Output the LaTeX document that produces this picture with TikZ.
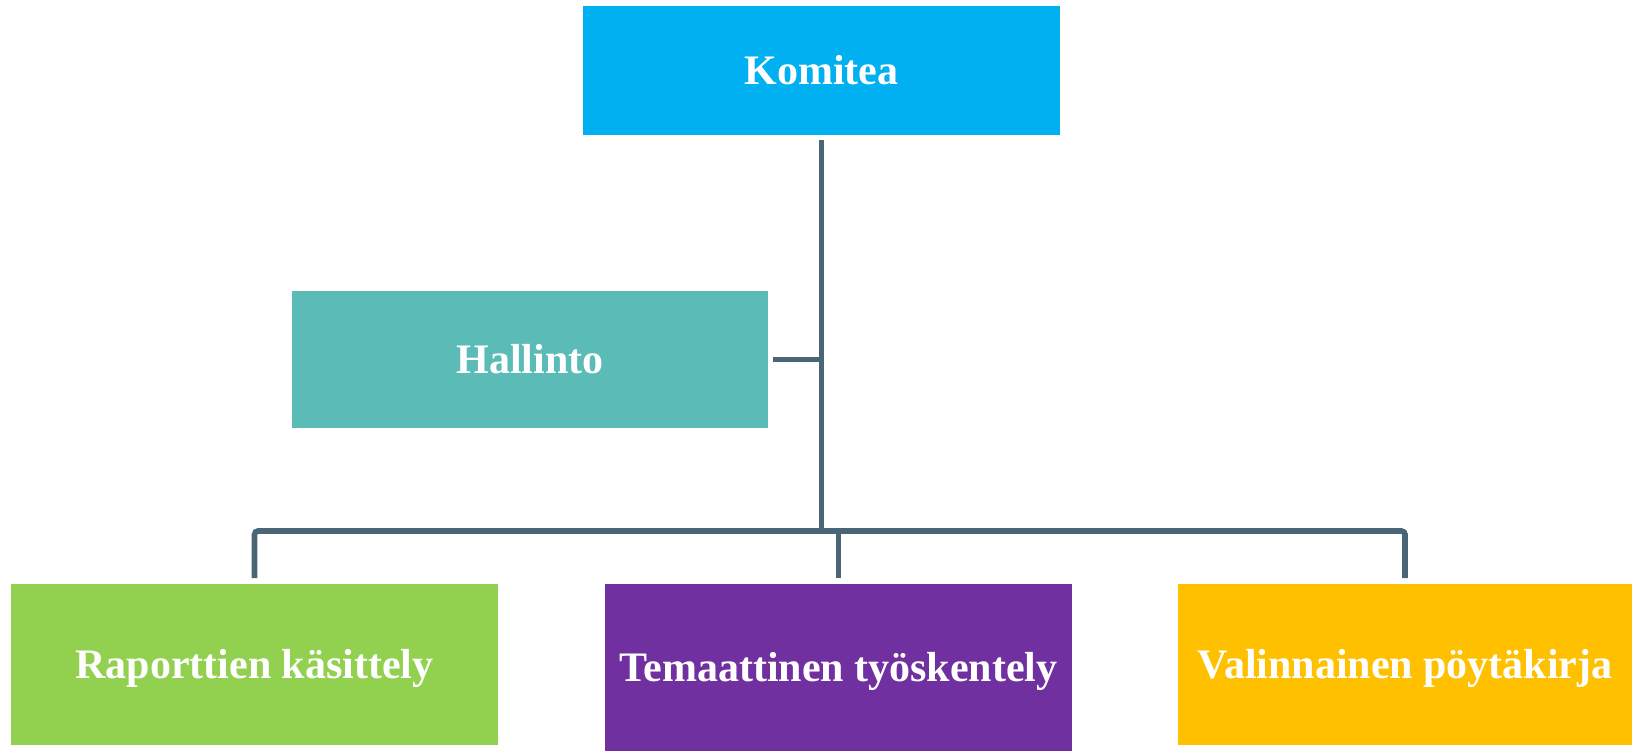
\documentclass[tikz,border=0pt]{standalone}
\usepackage{fontspec}
\setmainfont{Liberation Serif}
\usetikzlibrary{positioning}
\definecolor{komiteablue}{HTML}{00B0F0}
\definecolor{hallintoteal}{HTML}{5BBBB7}
\definecolor{raporttigreen}{HTML}{92D050}
\definecolor{teemapurple}{HTML}{7030A0}
\definecolor{valintayellow}{HTML}{FFC000}
\definecolor{linjagray}{HTML}{4A6575}
\begin{document}
\begin{tikzpicture}[
  lohko/.style={inner sep=0pt, outer sep=0pt, text=white,
    font=\fontsize{11.95}{14}\selectfont\bfseries,
    text height=0.28cm, text depth=0pt, align=center},
  conn/.style={draw=linjagray, line width=1.6pt}
]
\useasboundingbox (0,0) rectangle (16.32,-7.51);
\node[lohko, fill=komiteablue, minimum width=4.77cm, minimum height=1.29cm] (komitea) at (8.215,-0.705) {Komitea};
\node[lohko, fill=hallintoteal, minimum width=4.76cm, minimum height=1.37cm] (hallinto) at (5.30,-3.595) {Hallinto};
\node[lohko, fill=raporttigreen, minimum width=4.87cm, minimum height=1.61cm] (raportit) at (2.545,-6.645) {Raporttien käsittely};
\node[lohko, fill=teemapurple, minimum width=4.67cm, minimum height=1.67cm] (temaattinen) at (8.385,-6.675) {Temaattinen työskentely};
\node[lohko, fill=valintayellow, minimum width=4.54cm, minimum height=1.61cm] (valinnainen) at (14.05,-6.645) {Valinnainen pöytäkirja};
\coordinate (haara) at (8.215,-5.31);
\draw[conn] ([yshift=-0.05cm]komitea.south) -- ([yshift=-0.02cm]haara);
\draw[conn] ([xshift=0.05cm]hallinto.east) -- (komitea.south |- hallinto.east);
\draw[conn, rounded corners=1pt] ([yshift=0.06cm]raportit.north) |- (valinnainen.north |- haara) -- ([yshift=0.06cm]valinnainen.north);
\draw[conn] (temaattinen.north |- haara) -- ([yshift=0.06cm]temaattinen.north);
\end{tikzpicture}
\end{document}
